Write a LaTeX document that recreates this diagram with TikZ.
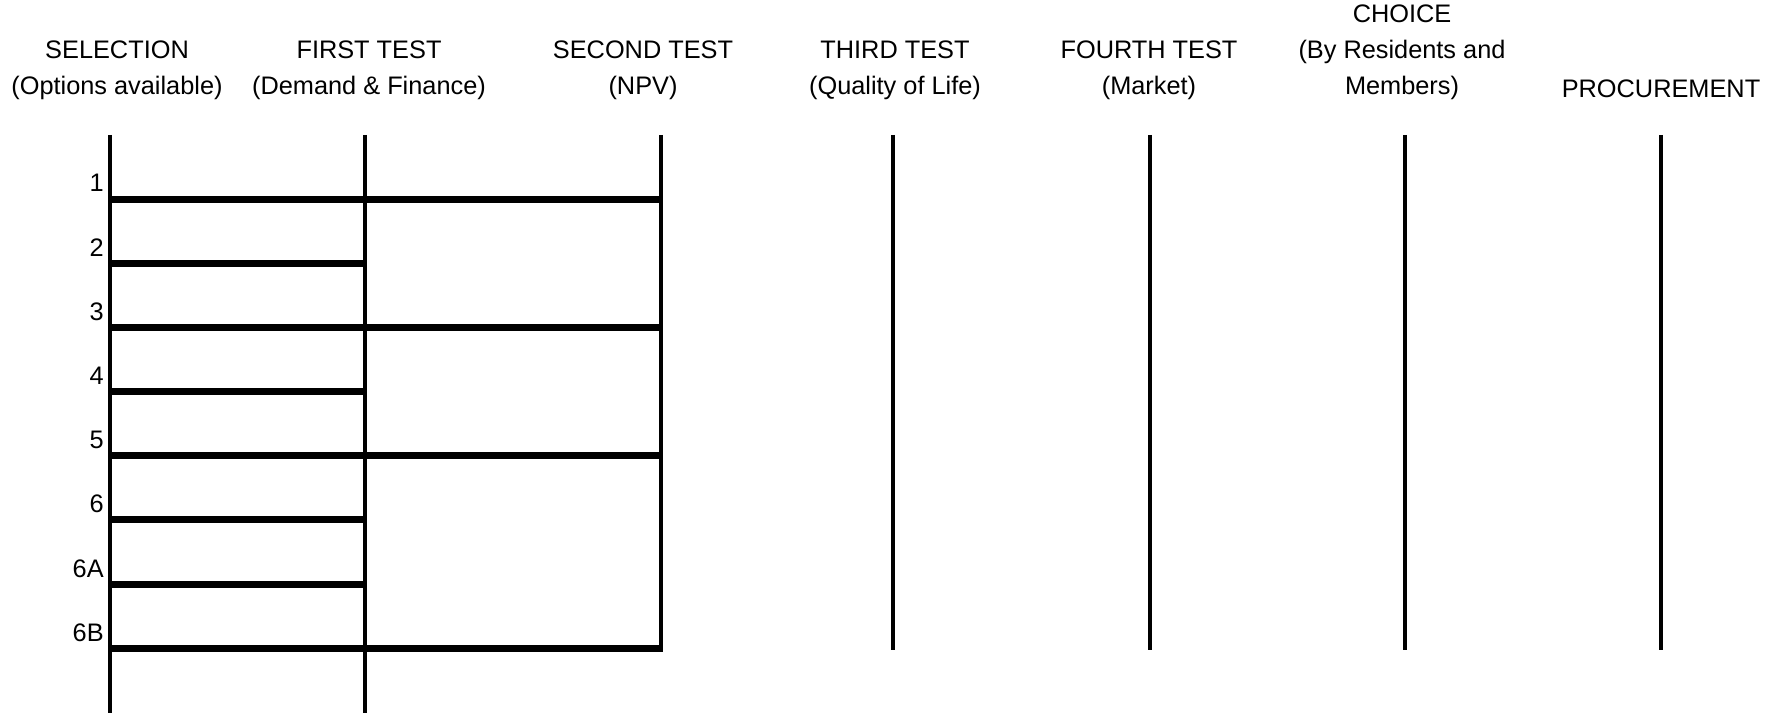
\documentclass[tikz,border=0pt]{standalone}
\usepackage{fontspec}
\setmainfont{Liberation Sans}

\begin{document}
\begin{tikzpicture}[x=0.75pt, y=-0.75pt,
  head/.style={align=center, font=\fontsize{19}{27}\selectfont},
  optlabel/.style={anchor=base east, inner sep=0pt, font=\fontsize{19}{23}\selectfont},
  stage/.style={line width=2.3pt},
  bar/.style={line width=5.25pt}]
\useasboundingbox (0,0) rectangle (1778,713);
% headings
\node[head] (sel) at (117, 70.5)  {SELECTION\\(Options available)};
\node[head] (ft)  at (369, 70.5)  {FIRST TEST\\(Demand \& Finance)};
\node[head] (st)  at (643, 70.5)  {SECOND TEST\\(NPV)};
\node[head] (tt)  at (895, 70.5)  {THIRD TEST\\(Quality of Life)};
\node[head] (fo)  at (1149, 70.5) {FOURTH TEST\\(Market)};
\node[head] (ch)  at (1402, 52.5) {CHOICE\\(By Residents and\\Members)};
\node[head] (pr)  at (1661, 88.5) {PROCUREMENT};
% stage lines
\coordinate (t1) at (110, 135);  \coordinate (b1) at (110, 713);
\coordinate (t2) at (365, 135);  \coordinate (b2) at (365, 713);
\coordinate (t3) at (661, 135);  \coordinate (b3) at (661, 651);
\coordinate (t4) at (893, 135);  \coordinate (b4) at (893, 650);
\coordinate (t5) at (1150, 135); \coordinate (b5) at (1150, 650);
\coordinate (t6) at (1405, 135); \coordinate (b6) at (1405, 650);
\coordinate (t7) at (1661, 135); \coordinate (b7) at (1661, 650);
\draw [stage] (t1)--(b1);
\draw [stage] (t2)--(b2);
\draw [stage] (t3)--(b3);
\draw [stage] (t4)--(b4);
\draw [stage] (t5)--(b5);
\draw [stage] (t6)--(b6);
\draw [stage] (t7)--(b7);
% options
\node[optlabel] (l1) at (104, 192)   {1};
\node[optlabel] (l2) at (104, 256.5) {2};
\node[optlabel] (l3) at (104, 320)   {3};
\node[optlabel] (l4) at (104, 384.5) {4};
\node[optlabel] (l5) at (104, 448.5) {5};
\node[optlabel] (l6) at (104, 512.5) {6};
\node[optlabel] (l7) at (104, 577)   {6A};
\node[optlabel] (l8) at (104, 641)   {6B};
\coordinate (o1) at (110, 199.5); \coordinate (e1) at (662.5, 199.5);
\coordinate (o2) at (110, 263.5); \coordinate (e2) at (366, 263.5);
\coordinate (o3) at (110, 327);   \coordinate (e3) at (662.5, 327);
\coordinate (o4) at (110, 391.5); \coordinate (e4) at (366, 391.5);
\coordinate (o5) at (110, 455.5); \coordinate (e5) at (662.5, 455.5);
\coordinate (o6) at (110, 519.5); \coordinate (e6) at (366, 519.5);
\coordinate (o7) at (110, 584);   \coordinate (e7) at (366, 584);
\coordinate (o8) at (110, 648);   \coordinate (e8) at (662.5, 648);
\draw [bar] (o1)--(e1);
\draw [bar] (o2)--(e2);
\draw [bar] (o3)--(e3);
\draw [bar] (o4)--(e4);
\draw [bar] (o5)--(e5);
\draw [bar] (o6)--(e6);
\draw [bar] (o7)--(e7);
\draw [bar] (o8)--(e8);
\end{tikzpicture}
\end{document}
